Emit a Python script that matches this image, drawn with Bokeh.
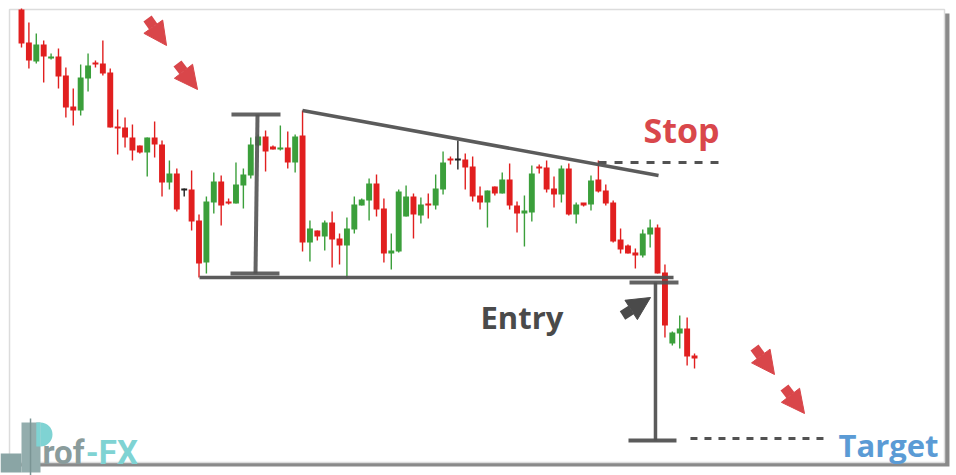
from bokeh.plotting import figure
from bokeh.models import Range1d, Arrow, NormalHead, ColumnDataSource
from bokeh.embed import file_html
from bokeh.resources import INLINE
from bokeh.core.properties import value

# ---- candle data (index, price units) ----
opens = [491, 458, 439, 456, 442, 444, 425, 394, 390, 422, 438, 437, 428, 374, 373, 363,
         355, 348, 363, 356, 318, 327, 311, 311, 280, 238, 298, 319, 299, 297, 315, 325,
         355, 364, 354, 351, 353, 338, 365, 258, 270, 264, 278, 262, 255, 271, 295, 300,
         317, 292, 247, 249, 284, 304, 285, 297, 295, 311, 342, 341, 341, 334, 305, 298,
         314, 307, 321, 295, 288, 288, 334, 333, 312, 306, 332, 286, 297, 296, 321, 310,
         298, 261, 255, 248, 245, 266, 273, 228, 157, 167, 172, 145]
highs = [492, 478, 467, 460, 447, 452, 433, 412, 436, 447, 440, 460, 432, 391, 383, 376,
         355, 363, 379, 360, 340, 332, 312, 330, 286, 304, 328, 325, 302, 338, 332, 363,
         366, 370, 355, 375, 369, 366, 390, 280, 270, 280, 289, 267, 283, 304, 302, 322,
         326, 302, 267, 311, 315, 307, 303, 307, 326, 349, 344, 360, 347, 344, 314, 310,
         314, 328, 337, 299, 305, 335, 336, 340, 324, 335, 337, 298, 297, 325, 340, 316,
         300, 272, 256, 252, 271, 281, 276, 236, 169, 185, 183, 147]
lows = [453, 432, 437, 418, 441, 412, 383, 375, 385, 409, 433, 425, 373, 346, 353, 340,
        347, 324, 343, 304, 311, 289, 304, 270, 223, 227, 287, 275, 296, 297, 292, 322,
        354, 329, 351, 350, 332, 328, 249, 239, 260, 250, 233, 236, 222, 267, 295, 280,
        284, 238, 231, 248, 284, 262, 277, 282, 291, 306, 336, 331, 311, 299, 291, 273,
        305, 307, 291, 268, 254, 279, 327, 308, 293, 298, 285, 277, 294, 290, 308, 295,
        258, 247, 247, 232, 243, 253, 227, 163, 155, 152, 135, 132]
closes = [457, 440, 456, 444, 444, 424, 393, 390, 423, 435, 436, 427, 373, 372, 363, 350,
          348, 363, 356, 318, 327, 291, 311, 279, 237, 299, 319, 295, 297, 316, 326, 356,
          364, 349, 351, 353, 338, 364, 258, 272, 264, 278, 261, 255, 272, 296, 301, 317,
          291, 247, 250, 309, 304, 286, 296, 295, 312, 338, 340, 341, 333, 304, 298, 310,
          307, 321, 295, 287, 289, 327, 332, 311, 306, 332, 286, 296, 296, 320, 309, 297,
          259, 251, 247, 245, 267, 273, 227, 175, 168, 172, 144, 142]

# ---- annotation levels (index, price units) ----
measure_top = 386
measure_bottom = 227
support_level = 223
resistance_start = (37.99, 390)
resistance_end = (86.13, 325)
stop_level = 338
entry_level = 218
target_level = 60

RED = "#e11f1f"
GREEN = "#3b9f3b"
DARK = "#222222"
LINE = "#525252"
ARROW_RED = "#d9464a"

idx = list(range(len(opens)))
colors = []
tops, bottoms = [], []
for o, c in zip(opens, closes):
    if c > o:
        colors.append(GREEN)
    elif c < o:
        colors.append(RED)
    else:
        colors.append(DARK)
    t, b = max(o, c), min(o, c)
    if t - b < 2:
        t += 1
        b -= 1
    tops.append(t)
    bottoms.append(b)

src = ColumnDataSource(dict(x=idx, high=highs, low=lows, top=tops, bottom=bottoms, color=colors))

W, H = 956, 475
x0 = -2.8394
x1 = 126.42
p = figure(width=W, height=H, output_backend="svg", toolbar_location=None,
           x_range=Range1d(x0, x1), y_range=Range1d(25, 500), min_border=0,
           outline_line_color=None, background_fill_color="white", border_fill_color="white")
p.axis.visible = False
p.grid.visible = False

# frame with shadow
p.quad(left=[-1.08], right=[125.47], top=[487], bottom=[34], fill_color="#8a8a8a", line_color=None)
p.quad(left=[-1.62], right=[124.8], top=[491], bottom=[38], fill_color="white",
       line_color="#dcdcdc", line_width=1.5)

# candles
p.segment(x0="x", y0="low", x1="x", y1="high", color="color", line_width=1.4, source=src)
p.vbar(x="x", width=0.8, top="top", bottom="bottom", fill_color="color", line_color=None, source=src)

# pattern lines
p.segment(x0=[28.39], y0=[measure_top], x1=[35.02], y1=[measure_top], line_color=LINE, line_width=4, line_alpha=0.9)
p.segment(x0=[31.91], y0=[measure_top], x1=[31.64], y1=[measure_bottom], line_color=LINE, line_width=4, line_alpha=0.9)
p.segment(x0=[28.26], y0=[measure_bottom], x1=[34.88], y1=[measure_bottom], line_color=LINE, line_width=4, line_alpha=0.9)
p.segment(x0=[24.07], y0=[support_level], x1=[88.16], y1=[support_level], line_color=LINE, line_width=3.5, line_alpha=0.95)
p.segment(x0=[resistance_start[0]], y0=[resistance_start[1]], x1=[resistance_end[0]], y1=[resistance_end[1]],
          line_color=LINE, line_width=3.5, line_alpha=0.95)
p.segment(x0=[78.02], y0=[stop_level], x1=[94.24], y1=[stop_level], line_color=LINE, line_width=3,
          line_dash="8 8")
p.segment(x0=[82.21], y0=[entry_level], x1=[88.83], y1=[entry_level], line_color=LINE, line_width=4, line_alpha=0.9)
p.segment(x0=[85.72], y0=[entry_level], x1=[85.72], y1=[target_level], line_color=LINE, line_width=3.5, line_alpha=0.95)
p.segment(x0=[82.07], y0=[target_level], x1=[88.56], y1=[target_level], line_color=LINE, line_width=4, line_alpha=0.95)
p.segment(x0=[90.45], y0=[target_level + 2], x1=[108.71], y1=[target_level + 2], line_color=LINE, line_width=3,
          line_dash="7 7")

# arrows
for (xs, ys, xe, ye) in [(17.04, 482, 19.61, 455), (21.09, 437, 23.80, 411),
                         (99.11, 153, 101.81, 126), (103.16, 113, 105.87, 87)]:
    p.add_layout(Arrow(end=NormalHead(size=23, fill_color=ARROW_RED, line_color=ARROW_RED),
                       x_start=xs, y_start=ys, x_end=xe, y_end=ye,
                       line_color=ARROW_RED, line_width=10))
p.add_layout(Arrow(end=NormalHead(size=23, fill_color="#4a4a4a", line_color="#4a4a4a"),
                   x_start=81.26, y_start=185, x_end=85.05, y_end=203,
                   line_color="#4a4a4a", line_width=10))

# labels
p.text(x=[84.1], y=[371], text=["Stop"], text_color="#d9474b", text_font=value("Open Sans"),
       text_font_style="bold", text_font_size="34px", text_baseline="alphabetic")
p.text(x=[62.06], y=[184], text=["Entry"], text_color="#4a4a4a", text_font=value("Open Sans"),
       text_font_style="bold", text_font_size="31px", text_baseline="alphabetic")
p.text(x=[110.47], y=[56], text=["Target"], text_color="#5b9bd5", text_font=value("Open Sans"),
       text_font_style="bold", text_font_size="31px", text_baseline="alphabetic")

# logo
p.quad(left=[-2.84], right=[0.0], top=[47], bottom=[28], fill_color="#8aa5a5", line_color=None)
p.quad(left=[0.0], right=[2.57], top=[78], bottom=[28], fill_color="#93adad", line_color=None)
p.wedge(x=[2.57], y=[66], radius=12, radius_units="screen", start_angle=-1.5708, end_angle=1.5708,
        fill_color="#7fd3d3", line_color=None)
p.quad(left=[2.0], right=[2.57], top=[78], bottom=[54], fill_color="#7fd3d3", line_color=None)
p.segment(x0=[1.22], y0=[82], x1=[1.22], y1=[25], line_color="#7a9494", line_width=1.5)
p.text(x=[2.84], y=[48], text=["rof"], text_color="#8a9c9c", text_font=value("Roboto"),
       text_font_style="bold", text_font_size="33px", text_baseline="alphabetic")
p.text(x=[8.7], y=[48], text=["-FX"], text_color="#7fd3d3", text_font=value("Roboto"),
       text_font_style="bold", text_font_size="33px", text_baseline="alphabetic")

open("out.html", "w").write(file_html(p, INLINE))
